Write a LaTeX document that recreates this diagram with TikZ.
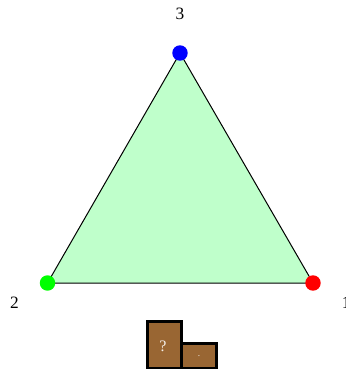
\documentclass[tikz,border=0pt]{standalone}
\usepackage{fontspec}
\setmainfont{Liberation Serif}
\definecolor{trifill}{HTML}{BFFFCB}
\definecolor{boxfill}{HTML}{996633}
\tikzset{
  px/.style={x=0.75pt,y=-0.75pt},
  vertexdot/.style={circle,inner sep=0pt,minimum size=11.6pt},
  label/.style={text=black,font=\fontsize{13}{13}\selectfont,inner sep=0pt},
  brownbox/.style={draw=black,fill=boxfill,line width=1.9pt,miter limit=10},
  boxtext/.style={text=white!90!boxfill,inner sep=0pt}
}
\begin{document}
\begin{tikzpicture}[px]
\clip (0,0) rectangle (346,372);
\coordinate (a) at (313,283);
\coordinate (b) at (47.5,283);
\coordinate (c) at (180,53);
\draw[fill=trifill,line width=0.75pt,line join=round] (a) -- (b) -- (c) -- cycle;
\node[vertexdot,fill=red] (n1) at (a) {};
\node[vertexdot,fill=green] (n2) at (b) {};
\node[vertexdot,fill=blue] (n3) at (c) {};
\node[label] (t3) at (180,14) {3};
\node[label] (t2) at (14.5,303) {2};
\node[label,anchor=west] (t1) at (341.5,303) {1};
\draw[brownbox] (147.5,321.5) rectangle (181.5,368);
\draw[brownbox] (181.5,343.5) rectangle (216.5,368);
\node[boxtext,font=\fontsize{12}{12}\selectfont] (q) at (163,346) {?};
\node[boxtext,font=\fontsize{7}{7}\selectfont] (d) at (199,356) {.};
\end{tikzpicture}
\end{document}
